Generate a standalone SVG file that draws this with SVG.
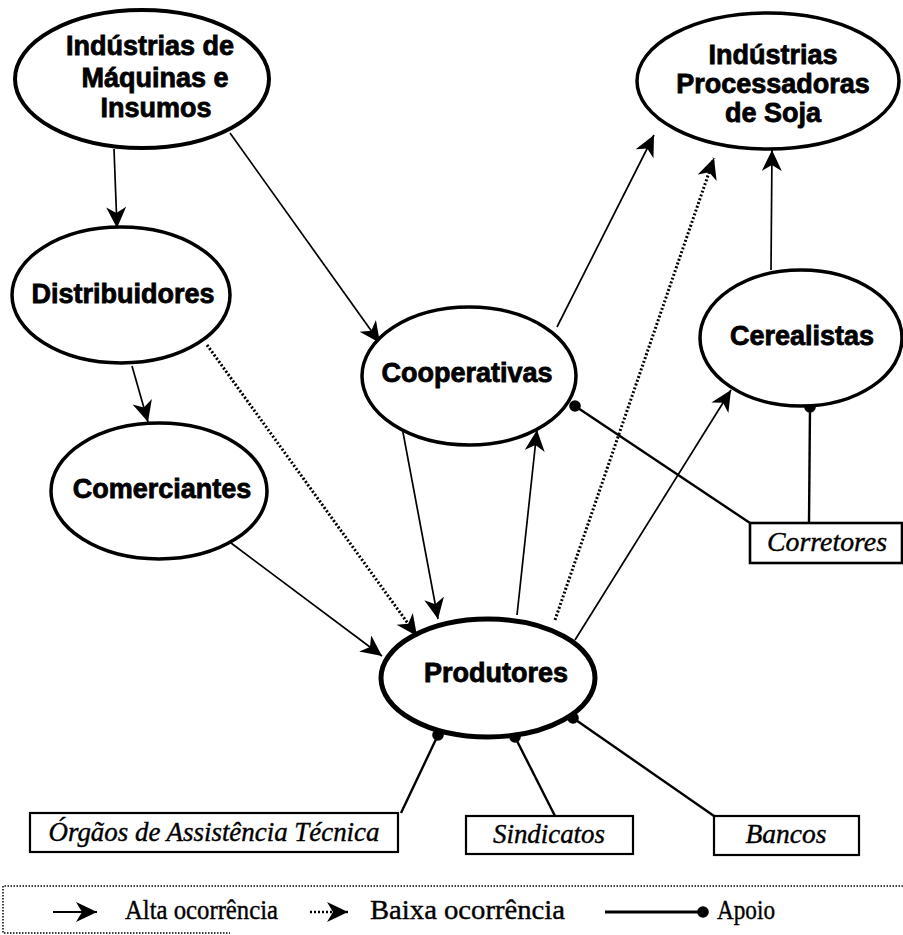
<svg xmlns="http://www.w3.org/2000/svg" width="903" height="935" viewBox="0 0 903 935">
<style>
.node ellipse{fill:#fff;stroke:#000;stroke-width:3.5}
.node text{font-family:"Liberation Sans",Arial,sans-serif;font-weight:bold;font-size:27px;text-anchor:middle;fill:#000;stroke:#000;stroke-width:0.8}
.box rect{fill:#fff;stroke:#000;stroke-width:2.2}
.box text{font-family:"Liberation Serif","Times New Roman",serif;font-style:italic;font-size:28px;text-anchor:middle;fill:#000;stroke:#000;stroke-width:0.4}
.c{stroke:#000;stroke-width:1.7;fill:none}
.d{stroke:#000;stroke-width:3;stroke-dasharray:2 2;fill:none}
.s{stroke:#000;stroke-width:2.4;fill:none}
.leg{font-family:"Liberation Serif","Times New Roman",serif;font-size:28px;fill:#000;stroke:#000;stroke-width:0.4}
</style>
<defs>
<marker id="arr" markerUnits="userSpaceOnUse" markerWidth="24" markerHeight="22" refX="21" refY="10" orient="auto" viewBox="0 0 24 22"><path d="M0,0 L21,10 L0,20 L6,10 z" fill="#000"/></marker>
<marker id="dot" markerUnits="userSpaceOnUse" markerWidth="14" markerHeight="14" refX="7" refY="7" viewBox="0 0 14 14"><circle cx="7" cy="7" r="5.8" fill="#000"/></marker>
</defs>
<rect width="903" height="935" fill="#fff"/>

<g id="connectors">
<line class="c" x1="114" y1="149" x2="117" y2="228" marker-end="url(#arr)"/>
<line class="c" x1="230" y1="133" x2="380" y2="343" marker-end="url(#arr)"/>
<line class="c" x1="132" y1="366" x2="148" y2="422" marker-end="url(#arr)"/>
<line class="d" x1="207" y1="345" x2="417" y2="636" marker-end="url(#arr)"/>
<line class="c" x1="231" y1="543" x2="382" y2="656" marker-end="url(#arr)"/>
<line class="c" x1="402" y1="427" x2="438" y2="619" marker-end="url(#arr)"/>
<line class="c" x1="517" y1="615" x2="537" y2="430" marker-end="url(#arr)"/>
<line class="d" x1="555" y1="620" x2="714" y2="158" marker-end="url(#arr)"/>
<line class="c" x1="557" y1="327" x2="654" y2="135" marker-end="url(#arr)"/>
<line class="c" x1="771" y1="270" x2="772" y2="150" marker-end="url(#arr)"/>
<line class="c" x1="575" y1="640" x2="731" y2="390" marker-end="url(#arr)"/>
<line class="s" x1="750" y1="523" x2="575" y2="406" marker-end="url(#dot)"/>
<line class="s" x1="809" y1="523" x2="810" y2="407" marker-end="url(#dot)"/>
<line class="s" x1="401" y1="813" x2="438" y2="735" marker-end="url(#dot)"/>
<line class="s" x1="555" y1="816" x2="515" y2="737" marker-end="url(#dot)"/>
<line class="s" x1="714" y1="816" x2="573" y2="718" marker-end="url(#dot)"/>
</g>

<g id="industrias-maquinas" class="node">
<ellipse cx="142" cy="79" rx="127" ry="69" style="stroke-width:4"/>
<text x="150" y="55">Indústrias de</text>
<text x="155" y="87">Máquinas e</text>
<text x="156" y="117">Insumos</text>
</g>
<g id="industrias-processadoras" class="node">
<ellipse cx="768" cy="81" rx="131" ry="68"/>
<text x="773" y="64">Indústrias</text>
<text x="773" y="93">Processadoras</text>
<text x="773" y="122">de Soja</text>
</g>
<g id="distribuidores" class="node">
<ellipse cx="121" cy="295" rx="109" ry="68"/>
<text x="123" y="303">Distribuidores</text>
</g>
<g id="comerciantes" class="node">
<ellipse cx="159" cy="491" rx="108" ry="68"/>
<text x="162" y="498">Comerciantes</text>
</g>
<g id="cooperativas" class="node">
<ellipse cx="469" cy="376" rx="107" ry="69"/>
<text x="467" y="382">Cooperativas</text>
</g>
<g id="produtores" class="node">
<ellipse cx="488" cy="678" rx="107" ry="59" style="stroke-width:5"/>
<text x="496" y="682">Produtores</text>
</g>
<g id="cerealistas" class="node">
<ellipse cx="801" cy="338" rx="101" ry="68"/>
<text x="802" y="345">Cerealistas</text>
</g>

<g id="corretores" class="box">
<rect x="750" y="523" width="152" height="40" style="stroke-width:2.6"/>
<text x="827" y="551" textLength="120" lengthAdjust="spacingAndGlyphs">Corretores</text>
</g>
<g id="orgaos" class="box">
<rect x="30" y="813" width="368" height="39"/>
<text x="214" y="841" textLength="331" lengthAdjust="spacingAndGlyphs">Órgãos de Assistência Técnica</text>
</g>
<g id="sindicatos" class="box">
<rect x="466" y="816" width="167" height="38"/>
<text x="549" y="843" textLength="112" lengthAdjust="spacingAndGlyphs">Sindicatos</text>
</g>
<g id="bancos" class="box">
<rect x="714" y="816" width="145" height="39"/>
<text x="786" y="843" textLength="81" lengthAdjust="spacingAndGlyphs">Bancos</text>
</g>

<g id="legend">
<path d="M903,886 H3 V933 H230" fill="none" stroke="#000" stroke-width="1.5" stroke-dasharray="1.5 1.5"/>
<line class="c" x1="53" y1="912" x2="97" y2="912" style="stroke-width:2" marker-end="url(#arr)"/>
<text class="leg" x="125" y="919" textLength="153" lengthAdjust="spacingAndGlyphs">Alta ocorrência</text>
<line class="d" x1="310" y1="912" x2="348" y2="912" style="stroke-width:2.5" marker-end="url(#arr)"/>
<text class="leg" x="370" y="919" textLength="195" lengthAdjust="spacingAndGlyphs">Baixa ocorrência</text>
<line class="s" x1="605" y1="912" x2="703" y2="912" style="stroke-width:3" marker-end="url(#dot)"/>
<text class="leg" x="717" y="919" textLength="58" lengthAdjust="spacingAndGlyphs">Apoio</text>
</g>
</svg>
